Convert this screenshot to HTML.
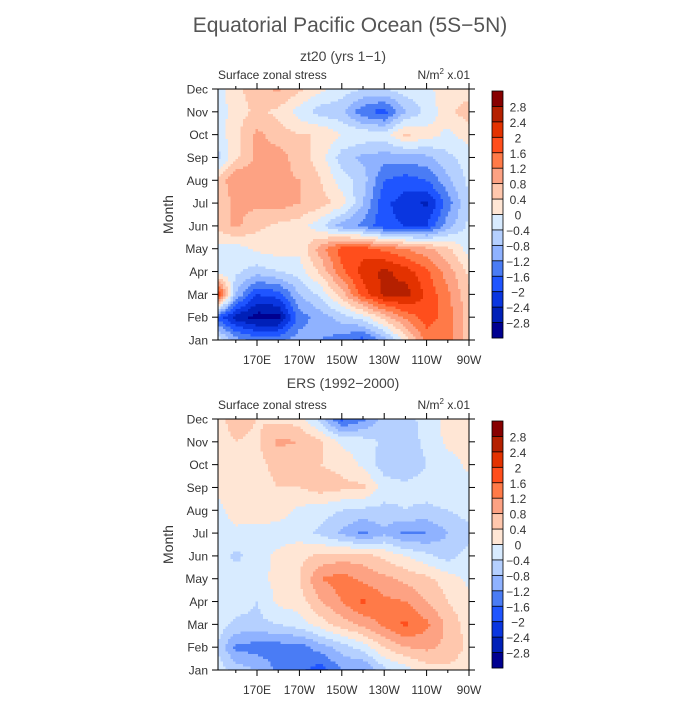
<!DOCTYPE html>
<html><head><meta charset="utf-8"><style>
html,body{margin:0;padding:0;background:#fff}
svg text{font-family:"Liberation Sans",sans-serif;fill:#333}
</style></head><body>
<svg id="chart" width="700" height="700" viewBox="0 0 700 700" xmlns="http://www.w3.org/2000/svg">
<text x="350" y="32" text-anchor="middle" font-size="21" style="fill:#555">Equatorial Pacific Ocean (5S−5N)</text>
<text x="343" y="61" text-anchor="middle" font-size="14" style="fill:#444">zt20 (yrs 1−1)</text>
<text x="343" y="388" text-anchor="middle" font-size="14" style="fill:#444">ERS (1992−2000)</text>
<g id="panels"></g>
</svg>
<script>
const months = ["Jan","Feb","Mar","Apr","May","Jun","Jul","Aug","Sep","Oct","Nov","Dec"];
const lons = [152,160,170,180,190,200,210,220,230,240,250,260,270];
const lonTicks = [170,190,210,230,250,270];
const lonTickLabels = ["170E","170W","150W","130W","110W","90W"];
const minorLonTicks = [160,180,200,220,240,260];
const levels = [-2.8,-2.4,-2,-1.6,-1.2,-0.8,-0.4,0,0.4,0.8,1.2,1.6,2,2.4,2.8];
const levelLabels = ["-2.8","-2.4","-2","-1.6","-1.2","-0.8","-0.4","0","0.4","0.8","1.2","1.6","2","2.4","2.8"];
const colors = ["#000090","#0020b8","#0a36e0","#1f55ff","#4a7cf5","#8fb2ff","#b5d0ff","#d8ebff","#ffe6d5","#ffc7ad","#fda283","#ff7a48","#ff4e1c","#e33200","#b52000","#870000"];
// zt20 model values: rows Jan..Dec, columns lons
const zt20 = [
[-0.2,-1.0,-1.4,-1.3,-1.0,-1.2,-1.4,-1.8,-1.0,0.2,1.4,1.4,0.6],
[-1.8,-2.6,-3.0,-3.0,-1.4,-1.0,-0.6,-0.2,0.6,1.3,1.8,1.4,0.6],
[2.0,-0.8,-2.0,-1.8,-0.8,-0.3,0.6,1.8,2.5,2.6,1.9,1.3,0.5],
[-0.2,-0.3,-0.6,-0.4,-0.2,0.5,1.5,2.2,2.5,2.2,1.7,1.0,0.3],
[-0.2,-0.2,0.1,0.2,0.1,1.0,1.8,1.8,1.5,1.2,0.9,0.5,-0.2],
[0.6,0.9,0.5,0.3,0.2,-0.3,-1.0,-1.3,-1.9,-2.0,-2.0,-1.0,-0.3],
[0.5,0.9,0.9,1.0,0.8,0.6,0.2,-0.8,-1.9,-2.2,-2.5,-1.4,-0.4],
[0.5,1.2,1.0,0.9,0.8,0.4,-0.2,-0.6,-1.6,-1.8,-1.6,-0.9,-0.3],
[-0.5,0.3,0.9,1.0,0.6,0.2,-0.6,-0.9,-1.0,-1.0,-0.9,-0.5,-0.2],
[-0.2,0.3,0.9,0.6,0.4,0.4,0.0,-0.1,-0.2,0.5,0.2,-0.1,0.2],
[-0.2,0.2,0.5,0.3,-0.2,-0.6,-0.7,-1.5,-1.8,-0.8,-0.3,0.3,0.6],
[-0.2,0.3,0.6,0.9,0.5,0.1,-0.2,-0.4,-0.4,-0.2,-0.1,0.2,0.2]
];
// ERS observed values
const ers = [
[-0.2,-0.6,-0.8,-1.3,-1.5,-1.8,-1.2,-1.3,-0.5,-0.2,0.2,0.3,0.2],
[-0.5,-1.3,-1.4,-1.4,-1.4,-1.0,-0.6,-0.2,0.4,0.8,0.9,0.7,0.3],
[-0.2,-0.5,-0.5,-0.4,-0.2,0.2,0.6,0.9,1.3,1.7,1.3,0.7,0.2],
[-0.2,-0.2,-0.4,0.1,0.2,0.8,1.2,1.7,1.3,1.2,0.8,0.4,0.1],
[-0.2,-0.2,-0.1,0.1,0.4,1.2,1.4,1.1,0.9,0.7,0.5,0.2,-0.1],
[-0.2,-0.5,-0.2,0.1,0.3,0.5,0.6,0.6,0.3,0.0,-0.3,-0.6,-0.2],
[-0.2,-0.1,-0.2,-0.2,-0.2,-0.5,-0.9,-1.3,-0.9,-1.3,-1.2,-0.8,-0.6],
[-0.1,0.2,0.3,0.2,-0.1,-0.2,-0.4,-0.5,-0.5,-0.4,-0.5,-0.4,-0.2],
[0.1,0.3,0.3,0.4,0.4,0.6,0.5,0.5,-0.2,-0.3,-0.2,-0.1,-0.2],
[0.2,0.4,0.3,0.5,0.4,0.4,0.3,-0.1,-0.6,-0.7,-0.4,-0.2,0.1],
[0.2,0.4,0.3,0.9,0.8,0.5,-0.1,-0.2,-0.5,-0.6,-0.3,0.1,0.2],
[0.3,0.6,0.4,0.3,0.2,-0.6,-1.7,-1.3,-0.6,-0.5,-0.3,0.2,0.3]
];

const NS="http://www.w3.org/2000/svg";
const root=document.getElementById('panels');
const X0=218,X1=469,LON0=151.6,LON1=270;
function xs(lon){return X0+(lon-LON0)*(X1-X0)/(LON1-LON0);}
function colorFor(v){let i=0;while(i<levels.length&&v>=levels[i])i++;return colors[i];}
function mk(tag,attrs,parent){const e=document.createElementNS(NS,tag);for(const k in attrs)e.setAttribute(k,attrs[k]);parent.appendChild(e);return e;}
function sample(data,lon,m){
  let j=0;while(j<lons.length-2&&lon>lons[j+1])j++;
  let tx=(lon-lons[j])/(lons[j+1]-lons[j]);tx=Math.max(0,Math.min(1,tx));
  let i=Math.max(0,Math.min(10,Math.floor(m)));let ty=Math.max(0,Math.min(1,m-i));
  const a=data[i][j],b=data[i][j+1],c=data[i+1][j],d=data[i+1][j+1];
  return (a*(1-tx)+b*tx)*(1-ty)+(c*(1-tx)+d*tx)*ty;
}
function panel(data,Y0,Y1,name){
  const g=mk('g',{},root);
  
  
  const ys=m=>Y1-m*(Y1-Y0)/11;
  const cell=2.5;
  const cells=mk('g',{},g);
  
  
  function flush(x0,x1,y,col){
    const r=mk('rect',{x:x0,y:y,width:Math.max(0,x1-x0)+0.5,height:Math.min(cell+0.5,Y1-y),fill:col},cells);
    
    
  }
  for(let y=Y0;y<Y1;y+=cell){
    const m=(Y1-(y+cell/2))*11/(Y1-Y0);
    let runStart=X0,runCol=null;
    for(let x=X0;x<X1;x+=cell){
      const lon=LON0+(Math.min(x+cell/2,X1)-X0)*(LON1-LON0)/(X1-X0);
      const col=colorFor(sample(data,lon,m));
      if(col!==runCol){
        if(runCol!==null) flush(runStart,x,y,runCol);
        runStart=x;runCol=col;
      }
    }
    if(runCol!==null) flush(runStart,X1-0.5,y,runCol);
  }
  const frame=mk('rect',{x:X0,y:Y0,width:X1-X0,height:Y1-Y0,fill:'none',stroke:'#000','stroke-width':1},g);
  
  
  months.forEach((mn,i)=>{
    const y=ys(i);
    mk('line',{x1:X0-6,x2:X0,y1:y,y2:y,stroke:'#000'},g);
    mk('line',{x1:X1,x2:X1+6,y1:y,y2:y,stroke:'#000'},g);
    const t=mk('text',{x:X0-10,y:y+4.5,'text-anchor':'end','font-size':12},g);
    t.textContent=mn;
    
    
  });
  lonTicks.forEach((lon,i)=>{
    const x=xs(lon);
    mk('line',{x1:x,x2:x,y1:Y1,y2:Y1+6,stroke:'#000'},g);
    mk('line',{x1:x,x2:x,y1:Y0,y2:Y0-6,stroke:'#000'},g);
    const t=mk('text',{x:x,y:Y1+24,'text-anchor':'middle','font-size':12},g);
    t.textContent=lonTickLabels[i];
    
    
  });
  minorLonTicks.forEach(lon=>{
    const x=xs(lon);
    mk('line',{x1:x,x2:x,y1:Y1,y2:Y1+3,stroke:'#000'},g);
    mk('line',{x1:x,x2:x,y1:Y0,y2:Y0-3,stroke:'#000'},g);
  });
  const yt=mk('text',{x:173,y:(Y0+Y1)/2,'text-anchor':'middle','font-size':14,transform:`rotate(-90 173 ${(Y0+Y1)/2})`},g);
  yt.textContent='Month';
  
  
  const lt=mk('text',{x:218,y:Y0-10,'font-size':12},g);
  lt.textContent='Surface zonal stress';
  
  
  const ut=mk('text',{x:470,y:Y0-10,'text-anchor':'end','font-size':12},g);
  ut.innerHTML='N/m<tspan dy="-5" font-size="8">2</tspan><tspan dy="5"> x.01</tspan>';
  
  
  const cb=mk('g',{},g);
  
  
  const CT=Y0+2,CB=Y1-2,n=colors.length,h=(CB-CT)/n;
  for(let k=0;k<n;k++){
    const r=mk('rect',{x:492,y:CT+k*h,width:11,height:h+0.3,fill:colors[n-1-k]},cb);
    
    
  }
  for(let k=1;k<n;k++){
    mk('line',{x1:492,x2:503,y1:CT+k*h,y2:CT+k*h,stroke:'#000','stroke-width':0.8},cb);
    const t=mk('text',{x:518,y:CT+k*h+5,'text-anchor':'middle','font-size':12},cb);
    t.textContent=levelLabels[n-1-k].replace('-','−');
    
    
  }
  mk('rect',{x:492,y:CT,width:11,height:CB-CT,fill:'none',stroke:'#000','stroke-width':0.8},cb);
}
panel(zt20,89,340,'top-panel');
panel(ers,419,670,'bottom-panel');
</script>
</body></html>
